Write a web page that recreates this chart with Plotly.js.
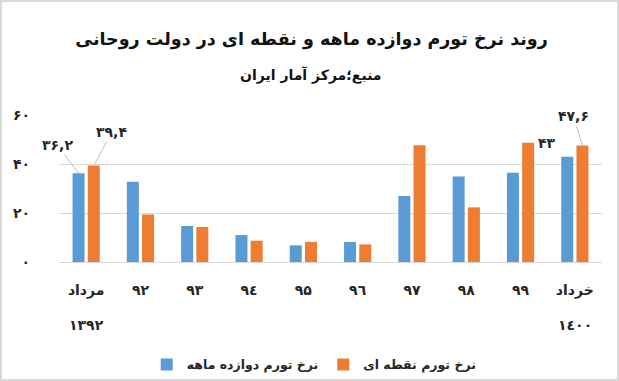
<!DOCTYPE html>
<html>
<head>
<meta charset="utf-8">
<script src="https://cdn.plot.ly/plotly-3.0.1.min.js"></script>
<style>
  html, body { margin: 0; padding: 0; background: #fff; }
  #wrap { position: relative; width: 619px; height: 381px; }
  #chart { width: 619px; height: 381px; }
  #frame { position: absolute; left: 0; top: 0; width: 619px; height: 381px; box-sizing: border-box; border: 2px solid #d9d9d9; pointer-events: none; }
</style>
</head>
<body>
<div id="wrap"><div id="chart"></div><div id="frame"></div></div>
<script>
// Data
const categories = ['مرداد', '۹۲', '۹۳', '۹٤', '۹۵', '۹٦', '۹۷', '۹۸', '۹۹', 'خرداد'];
const categoryLine2 = ['۱۳۹۲', '', '', '', '', '', '', '', '', '۱٤۰۰'];
const twelveMonth = [36.2, 32.8, 14.7, 11.0, 6.8, 8.2, 26.9, 34.9, 36.4, 43.0];
const pointToPoint = [39.4, 19.4, 14.3, 8.7, 8.2, 7.2, 47.7, 22.3, 48.7, 47.6];
const seriesNames = ['نرخ تورم دوازده ماهه', 'نرخ تورم نقطه ای'];
const yTickVals = [0, 20, 40, 60];
const yTickText = ['۰', '۲۰', '۴۰', '۶۰'];
const titleText = 'روند نرخ تورم دوازده ماهه و نقطه ای در دولت روحانی';
const subtitleText = 'منبع؛مرکز آمار ایران';
// labelled bars: [series index, category index, label]
const labelled = [
  [0, 0, '۳۶,۲'],
  [1, 0, '۳۹,۴'],
  [0, 9, '۴۳'],
  [1, 9, '۴۷,۶']
];

const FONT = 'DejaVu Sans, Noto Sans, sans-serif';
const colors = ['#5B9BD5', '#ED7D31'];
const seriesVals = [twelveMonth, pointToPoint];

const traces = seriesVals.map((vals, i) => ({
  type: 'bar',
  x: categories,
  y: vals,
  name: '<b>' + seriesNames[i] + '</b>',
  marker: { color: colors[i] },
  hoverinfo: 'none'
}));

// label placement styles (pixel offsets) for each labelled bar
const labelStyle = [
  { xshift: -7.6, ax: -21, ay: -28, line: true },
  { xshift: 7.6, ax: 18, ay: -33, line: true },
  { xshift: -7.6, ax: -20, ay: -14, line: false },
  { xshift: 7.6, ax: -9, ay: -29, line: true }
];

const annotations = labelled.map((l, k) => {
  const s = labelStyle[k];
  return {
    x: categories[l[1]], y: seriesVals[l[0]][l[1]], xref: 'x', yref: 'y',
    text: '<b>' + l[2] + '</b>',
    xshift: s.xshift,
    showarrow: true, arrowhead: 0, arrowwidth: 1,
    arrowcolor: s.line ? '#bfbfbf' : 'rgba(0,0,0,0)',
    ax: s.ax, ay: s.ay, standoff: 0,
    font: { family: FONT, size: 14, color: '#262626' }
  };
});

categoryLine2.forEach((t, i) => {
  if (t) annotations.push({
    x: categories[i], y: 0, xref: 'x', yref: 'y', yanchor: 'middle',
    yshift: -63, showarrow: false, text: '<b>' + t + '</b>',
    font: { family: FONT, size: 14, color: '#262626' }
  });
});

annotations.push({
  xref: 'paper', yref: 'paper', x: 0.465, y: 1.272, xanchor: 'center', yanchor: 'middle',
  showarrow: false, text: '<b>' + subtitleText + '</b>',
  font: { family: FONT, size: 14, color: '#111' }
});

const layout = {
  width: 619, height: 381,
  margin: { l: 59, r: 17, t: 115, b: 119, autoexpand: false },
  paper_bgcolor: '#fff', plot_bgcolor: '#fff',
  title: {
    text: '<b>' + titleText + '</b>',
    x: 0.465, xanchor: 'center', xref: 'paper',
    y: 1 - 39 / 381, yref: 'container', yanchor: 'middle',
    font: { family: FONT, size: 17.5, color: '#111' }
  },
  barmode: 'group', bargap: 0.44, bargroupgap: 0.21,
  xaxis: {
    type: 'category', tickvals: categories, ticktext: categories.map(c => '<b>' + c + '</b>'),
    range: [-0.5, categories.length - 0.5], autorange: false,
    showgrid: false, zeroline: false, showline: false, ticks: '',
    ticklabelstandoff: 18, automargin: false,
    tickfont: { family: FONT, size: 14, color: '#262626' },
    fixedrange: true
  },
  yaxis: {
    range: [0, 60], autorange: false, tickvals: yTickVals, ticktext: yTickText.map(t => '<b>' + t + '</b>'),
    showgrid: true, gridcolor: '#d9d9d9', gridwidth: 1,
    zeroline: true, zerolinecolor: '#d9d9d9', zerolinewidth: 1,
    showline: false, ticks: '', ticklabelstandoff: 28, automargin: false,
    tickfont: { family: FONT, size: 14, color: '#262626' },
    fixedrange: true
  },
  showlegend: true,
  legend: {
    orientation: 'h', x: 0.47, xanchor: 'center', y: -0.70, yanchor: 'middle',
    font: { family: FONT, size: 12.5, color: '#262626' },
    itemclick: false, itemdoubleclick: false
  },
  annotations: annotations
};

Plotly.newPlot('chart', traces, layout, { displayModeBar: false, staticPlot: true });
</script>
</body>
</html>
